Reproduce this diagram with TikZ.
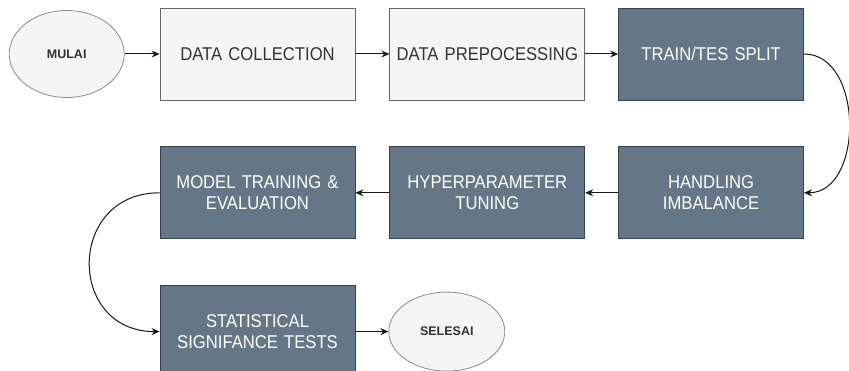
\documentclass[tikz,border=0pt]{standalone}
\usepackage{fontspec}
\usepackage{tikz}
\usetikzlibrary{shapes.geometric, arrows.meta, positioning}

\newfontfamily\boxfont[FakeStretch=0.9]{Liberation Sans}
\newfontfamily\endfont{Liberation Sans}

\definecolor{lightfill}{HTML}{F5F5F5}
\definecolor{lightline}{HTML}{666666}
\definecolor{lighttext}{HTML}{333333}
\definecolor{darkfill}{HTML}{647687}
\definecolor{darkline}{HTML}{314354}
\definecolor{ovalline}{HTML}{8C8C8C}

\begin{document}
\begin{tikzpicture}[
        x=1pt, y=-1pt,
        % Estilos das caixas
        lightbox/.style={rectangle, draw=lightline, line width=0.8pt, fill=lightfill, text=lighttext, text width=185pt, inner sep=5pt, align=center, minimum height=92pt, font=\fontsize{18.5}{21}\boxfont},
        darkbox/.style={rectangle, draw=darkline, line width=0.8pt, fill=darkfill, text=white, text width=185pt, inner sep=5pt, align=center, minimum height=92pt, font=\fontsize{18.5}{21}\boxfont},
        terminal/.style={ellipse, draw=ovalline, line width=0.8pt, fill=lightfill, text=lighttext, inner sep=0pt, font=\fontsize{12.5}{15}\endfont\bfseries},
        arrow/.style={-{Stealth[length=8pt, width=7pt]}, line width=1pt, draw=black!90}
    ]
    \useasboundingbox (0,0) rectangle (849,371);

    % 1. Baris atas
    \node (collect) [lightbox] at (257.5,54) {DATA COLLECTION};
    \node (mulai) [terminal, minimum width=115pt, minimum height=87pt, left=35pt of collect] {MULAI};
    \node (prep) [lightbox, right=34pt of collect] {DATA PREPOCESSING};
    \node (split) [darkbox, text width=175pt, right=33pt of prep] {TRAIN/TES SPLIT};

    % 2. Baris tengah (kanan ke kiri)
    \node (imbal) [darkbox, text width=175pt, below=46pt of split] {HANDLING\\IMBALANCE};
    \node (tuning) [darkbox, left=33pt of imbal] {HYPERPARAMETER\\TUNING};
    \node (train) [darkbox, left=34pt of tuning] {MODEL TRAINING \&\\EVALUATION};

    % 3. Baris bawah
    \node (stats) [darkbox, below=46pt of train] {STATISTICAL\\SIGNIFANCE TESTS};
    \node (selesai) [terminal, minimum width=116pt, minimum height=79pt, right=33pt of stats] {SELESAI};

    % Setas retas
    \draw [arrow] (mulai) -- (collect);
    \draw [arrow] (collect) -- (prep);
    \draw [arrow] (prep) -- (split);
    \draw [arrow] (imbal) -- (tuning);
    \draw [arrow] (tuning) -- (train);
    \draw [arrow] (stats) -- (selesai);

    % Setas curvas entre as linhas
    \draw [arrow] (split.east) .. controls +(60,0) and +(60,0) .. (imbal.east);
    \draw [arrow] (train.west) .. controls +(-93,0) and +(-93,0) .. (stats.west);

\end{tikzpicture}
\end{document}
